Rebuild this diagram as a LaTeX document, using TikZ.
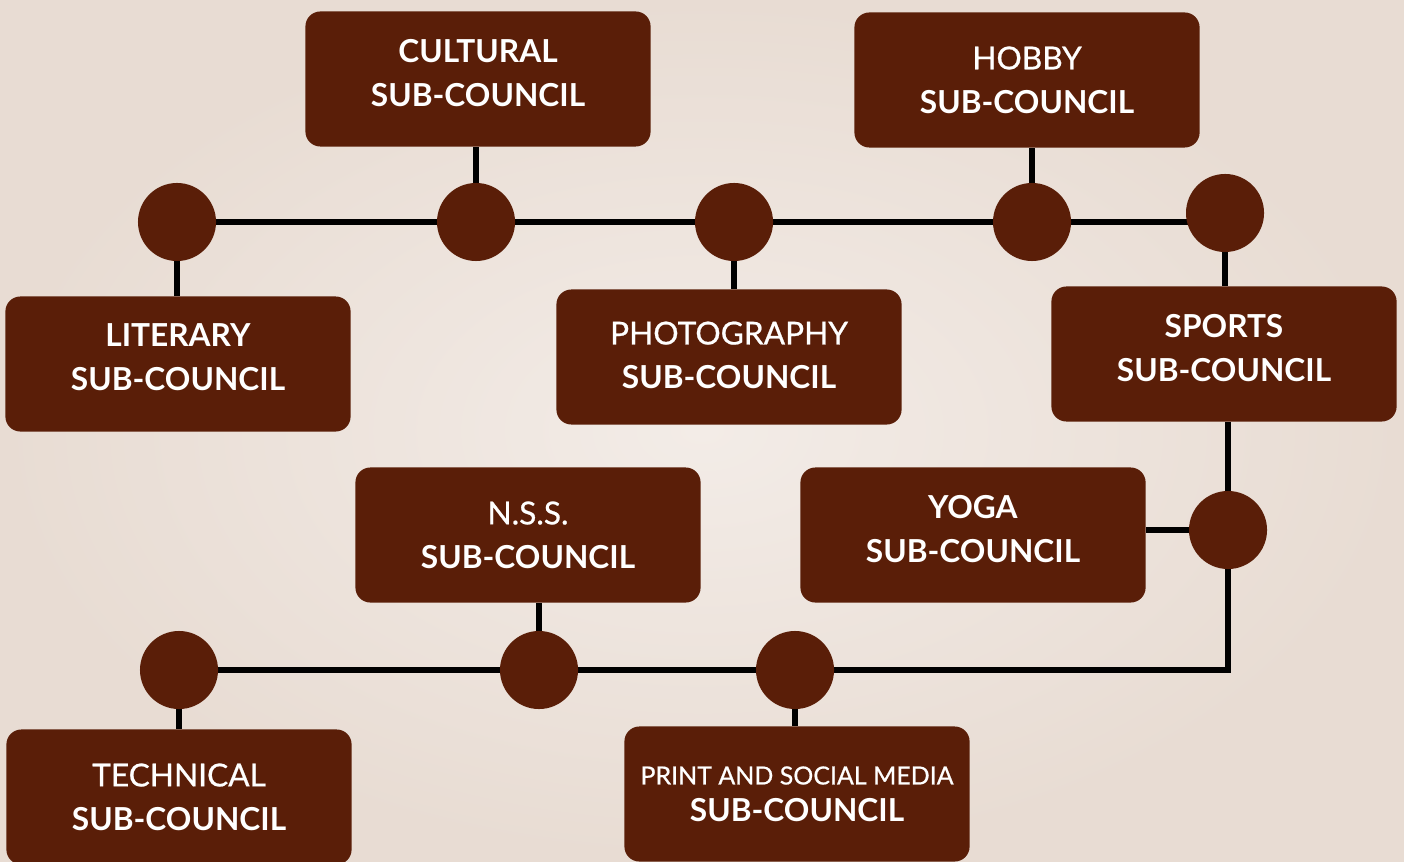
\documentclass[tikz,border=0pt]{standalone}
\usepackage{fontspec}
\setmainfont{Lato}
\newfontfamily\medfont[FakeBold=0.7]{Lato}
\usetikzlibrary{positioning,backgrounds}
\definecolor{councilbrown}{RGB}{90,30,8}
\definecolor{sandlight}{RGB}{243,236,231}
\definecolor{sanddark}{RGB}{232,220,211}
\tikzset{
    council/.style={rectangle,rounded corners=0.15cm,fill=councilbrown,text=white,
        minimum width=3.45cm,minimum height=1.35cm,align=center,
        font=\fontsize{9}{12.5}\selectfont},
    raised/.style={text depth=0.13cm},
    joint/.style={circle,fill=councilbrown,minimum size=0.78cm,inner sep=0pt},
    link/.style={line width=1.8pt,black}
}
\newcommand{\sub}{\textbf{SUB-COUNCIL}}
\begin{document}
\begin{tikzpicture}[x=0.01cm,y=-0.01cm]
    \begin{scope}[on background layer]
    \shade [inner color=sandlight,outer color=sanddark] (0,0) rectangle (1404,861);
    \end{scope}
    \useasboundingbox (0,0) rectangle (1404,861);
    \node [council,raised] (cultural) at (478,79) {\textbf{CULTURAL}\\\sub};
    \node [council] (hobby) at (1027,80) {{\medfont HOBBY}\\\sub};
    \node [council,raised] (literary) at (178,364) {\textbf{LITERARY}\\\sub};
    \node [council,text depth=0.04cm] (photo) at (729,357) {{\medfont PHOTOGRAPHY}\\\sub};
    \node [council,raised] (sports) at (1224,354) {\textbf{SPORTS}\\\sub};
    \node [council] (nss) at (528,535) {{\medfont N.S.S.}\\\sub};
    \node [council,raised] (yoga) at (973,535) {\textbf{YOGA}\\\sub};
    \node [council] (technical) at (179,797) {{\medfont TECHNICAL}\\\sub};
    \node [council,font=\fontsize{9}{10.5}\selectfont] (print) at (797,794)
        {{\fontsize{7.1}{10.5}\selectfont\medfont PRINT AND SOCIAL MEDIA}\\\sub};
    \node [joint] (c1) at (177,222) {};
    \node [joint] (c2) at (476,222) {};
    \node [joint] (c3) at (734,222) {};
    \node [joint] (c4) at (1032,222) {};
    \node [joint] (c5) at (1225,213) {};
    \node [joint] (c6) at (1228,530) {};
    \node [joint] (c7) at (179,670) {};
    \node [joint] (c8) at (539,670) {};
    \node [joint] (c9) at (795,670) {};
    \begin{scope}[on background layer]
    \draw [link] (c1.center) -- (c4.center) -- (c4.center -| c5.center);
    \draw [link] (c1.center) -- (c1 |- literary.north);
    \draw [link] (c2.center) -- (c2 |- cultural.south);
    \draw [link] (c3.center) -- (c3 |- photo.north);
    \draw [link] (c4.center) -- (c4 |- hobby.south);
    \draw [link] (c5.center) -- (c5 |- sports.north);
    \draw [link] (c6 |- sports.south) -- (c6.center) -- (c6 -| yoga.east);
    \draw [link] (c6.center) -- (c6 |- c9.center) -- (c7.center);
    \draw [link] (c7.center) -- (c7 |- technical.north);
    \draw [link] (c8.center) -- (c8 |- nss.south);
    \draw [link] (c9.center) -- (c9 |- print.north);
    \end{scope}
\end{tikzpicture}
\end{document}
